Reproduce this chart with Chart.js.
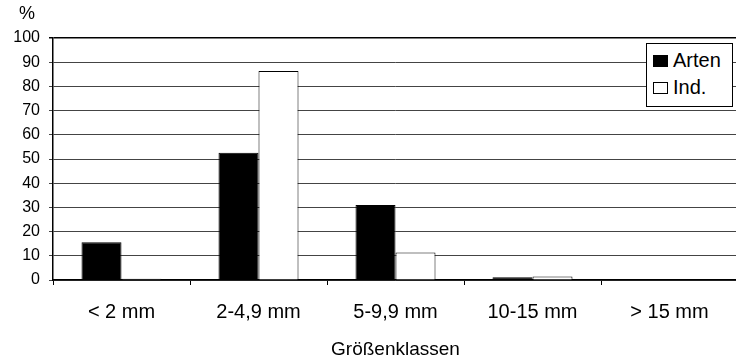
<!DOCTYPE html>
<html>
<head>
<meta charset="utf-8">
<script src="https://cdn.jsdelivr.net/npm/chart.js@4/dist/chart.umd.min.js"></script>
<style>
  html, body { margin: 0; padding: 0; background: #fff; overflow: hidden; }
  #wrap { position: relative; width: 738px; height: 362px; }
  #legend {
    position: absolute; left: 646px; top: 43px; width: 85px; height: 59px;
    border: 1px solid #000; background: #fff; padding-top: 3px; box-sizing: content-box;
    font: 20px "Liberation Sans", Arial, sans-serif; color: #000;
  }
  #legend div { display: flex; align-items: center; height: 27px; padding-left: 6px; }
  #legend span.box { display: inline-block; width: 15px; height: 12px; border: 1px solid #000; margin-right: 5px; box-sizing: border-box; }
</style>
</head>
<body>
<div id="wrap">
  <canvas id="sizeChart" width="738" height="362"></canvas>
  <div id="legend"></div>
</div>
<script>
const sizeClasses = ["< 2 mm", "2-4,9 mm", "5-9,9 mm", "10-15 mm", "> 15 mm"];
const artenPct = [15.6, 52.6, 31.0, 1.1, 0];
const indPct = [0.5, 86.4, 11.4, 1.4, 0];
const yTicks = [0, 10, 20, 30, 40, 50, 60, 70, 80, 90, 100];

const FONT = '"Liberation Sans", Arial, sans-serif';

// "%" unit label above the y axis
const unitLabel = {
  id: "unitLabel",
  afterDraw(chart) {
    const ctx = chart.ctx;
    ctx.save();
    ctx.font = "18px " + FONT;
    ctx.fillStyle = "#000";
    ctx.textAlign = "center";
    ctx.textBaseline = "middle";
    ctx.fillText("%", 27, 14);
    ctx.restore();
  }
};

const ctx = document.getElementById("sizeChart").getContext("2d");
const chart = new Chart(ctx, {
  type: "bar",
  data: {
    labels: sizeClasses,
    datasets: [
      {
        label: "Arten",
        data: artenPct,
        backgroundColor: "#000",
        borderColor: "#000",
        borderWidth: 1
      },
      {
        label: "Ind.",
        data: indPct,
        backgroundColor: "#fff",
        borderColor: "#000",
        borderWidth: 1
      }
    ]
  },
  options: {
    responsive: false,
    animation: false,
    layout: { padding: { top: 38, right: 0, bottom: 0, left: 0 } },
    datasets: {
      bar: { categoryPercentage: 0.584, barPercentage: 1.0 }
    },
    plugins: {
      legend: { display: false },
      tooltip: { enabled: false }
    },
    scales: {
      x: {
        afterFit(scale) { scale.height = 82; },
        border: { color: "#000", width: 1.5 },
        grid: { display: true, drawOnChartArea: false, offset: true, tickLength: 5, color: "#000" },
        ticks: { color: "#000", font: { family: FONT, size: 20 }, padding: 15, maxRotation: 0 },
        title: {
          display: true,
          text: "Größenklassen",
          color: "#000",
          font: { family: FONT, size: 19 },
          padding: { top: 0, bottom: 1 }
        }
      },
      y: {
        min: 0,
        max: 100,
        afterFit(scale) { scale.width = 53; },
        afterBuildTicks(scale) { scale.ticks = yTicks.map(v => ({ value: v })); },
        border: { color: "#000", width: 1.5 },
        grid: {
          color: ctx => ctx.tick && ctx.tick.value === 100 ? "#000" : "#444",
          lineWidth: ctx => ctx.tick && ctx.tick.value === 100 ? 1.5 : 1,
          tickLength: 4
        },
        ticks: { color: "#000", font: { family: FONT, size: 16 }, padding: 9 }
      }
    }
  },
  plugins: [unitLabel]
});

// legend box inside the plot, built from the datasets
const legendEl = document.getElementById("legend");
chart.data.datasets.forEach(ds => {
  const row = document.createElement("div");
  row.innerHTML = `<span class="box" style="background:${ds.backgroundColor}"></span>${ds.label}`;
  legendEl.appendChild(row);
});
</script>
</body>
</html>
